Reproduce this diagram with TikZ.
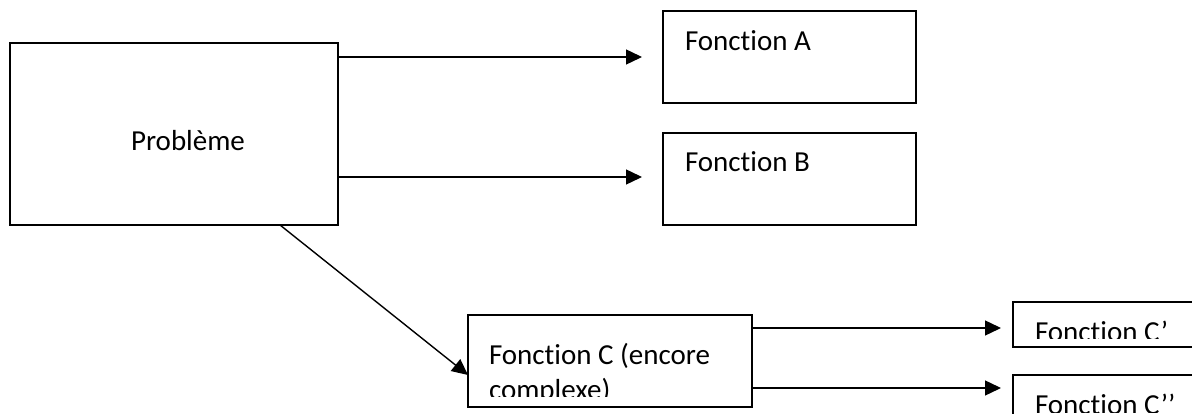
\documentclass[tikz,border=0pt]{standalone}
\usepackage{fontspec}
\setmainfont{Carlito}[Ligatures=NoCommon]
\usetikzlibrary{arrows.meta}
\begin{document}
\begin{tikzpicture}[x=1pt,y=-1pt,
  box/.style={draw=black, line width=1.5pt, rectangle, inner sep=0pt, outer sep=0pt, anchor=north west},
  txt/.style={inner sep=0pt, outer sep=0pt, anchor=base west, font=\fontsize{29}{34}\selectfont},
  arr/.style={draw=black, line width=1.4pt, -{Triangle[length=16pt,width=15pt]}}]
\useasboundingbox[fill=white] (0,0) rectangle (1192,414);
% boxes
\node[box, minimum width=328pt, minimum height=182pt] (prob) at (10,43) {};
\node[box, minimum width=253pt, minimum height=92pt] (fa) at (663,11) {};
\node[box, minimum width=253pt, minimum height=92pt] (fb) at (663,133) {};
\node[box, minimum width=284pt, minimum height=92pt] (fc) at (468,315) {};
\node[box, minimum width=240pt, minimum height=45pt] (fc1) at (1013,302) {};
\node[box, minimum width=240pt, minimum height=95pt] (fc2) at (1013,375) {};
% texts
\node[txt, anchor=base] (tprob) at (188,151) {Problème};
\node[txt] (tfa) at (685,51) {Fonction A};
\node[txt] (tfb) at (685,172) {Fonction B};
\begin{scope}
  \clip (468,315) rectangle (752,396);
  \node[txt] (tfc1) at (489,364) {Fonction C (encore};
  \node[txt] (tfc2) at (489,399) {complexe)};
\end{scope}
\begin{scope}
  \clip (1013,302) rectangle (1192,338);
  \node[txt] (tc1) at (1035,341) {Fonction C’};
\end{scope}
\begin{scope}
  \clip (1013,375) rectangle (1192,412);
  \node[txt] (tc2) at (1035,414) {Fonction C’’};
\end{scope}
% connectors
\coordinate (pa) at (prob.north east |- 0,57);
\coordinate (pb) at (prob.north east |- 0,177);
\coordinate (pc) at (280,225);
\draw[arr, shorten >=21pt] (pa) -- (pa -| fa.west);
\draw[arr, shorten >=21pt] (pb) -- (pb -| fb.west);
\draw[arr] (pc) -- (fc.west |- 0,375);
\coordinate (ca) at (fc.north east |- 0,328);
\coordinate (cb) at (fc.north east |- 0,388);
\draw[arr, shorten >=12pt] (ca) -- (ca -| fc1.west);
\draw[arr, shorten >=12pt] (cb) -- (cb -| fc2.west);
\end{tikzpicture}
\end{document}
